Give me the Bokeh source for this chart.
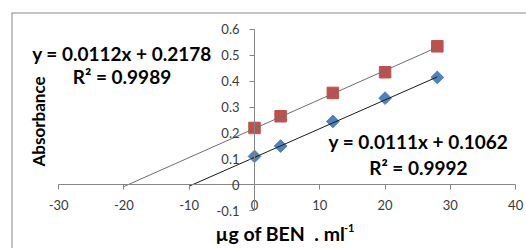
import math
from bokeh.plotting import figure
from bokeh.models import (FixedTicker, CustomJSTickFormatter, Label, Range1d,
                          LinearAxis, Span)
from bokeh.embed import file_html
from bokeh.resources import INLINE

# ---- data ----
conc = [0, 4, 12, 20, 28]                         # µg of BEN . ml-1
abs_red = [0.22, 0.265, 0.355, 0.435, 0.535]
abs_blue = [0.11, 0.15, 0.245, 0.335, 0.415]
slopes = [0.0112, 0.0111]
intercepts = [0.2178, 0.1062]
r_squared = [0.9989, 0.9992]
forecast_back = [20, 10]
x_ticks = [-30, -20, -10, 0, 10, 20, 30, 40]
y_ticks = [-0.1, 0, 0.1, 0.2, 0.3, 0.4, 0.5, 0.6]

FONT = "Lato"
X0, X1, Y0, Y1 = -37.22, 41.66, -0.2454, 0.6655

p = figure(width=526, height=248, output_backend="svg", toolbar_location=None,
           x_range=Range1d(X0, X1), y_range=Range1d(Y0, Y1),
           min_border_left=11, min_border_top=12, min_border_right=0, min_border_bottom=0,
           x_axis_type=None, y_axis_type=None)
p.background_fill_color = "white"
p.border_fill_color = "white"
p.outline_line_color = None
p.xgrid.visible = False
p.ygrid.visible = False

# chart-area border (only top and left edges fall inside the window)
p.add_layout(Span(location=X0, dimension="height", line_color="#8a8a8a", line_width=2))
p.add_layout(Span(location=Y1, dimension="width", line_color="#8a8a8a", line_width=2))

fmt = CustomJSTickFormatter(code="return Number(tick.toFixed(3)).toString();")

xa = LinearAxis(ticker=FixedTicker(ticks=x_ticks), formatter=fmt,
                bounds=(min(x_ticks), max(x_ticks)), fixed_location=0)
ya = LinearAxis(ticker=FixedTicker(ticks=y_ticks), formatter=fmt,
                bounds=(min(y_ticks), max(y_ticks)), fixed_location=0)
for ax in (xa, ya):
    ax.axis_line_color = "#868686"
    ax.major_tick_line_color = "#868686"
    ax.minor_tick_line_color = None
    ax.major_tick_out = 5
    ax.major_tick_in = 0
    ax.major_label_standoff = 10
    ax.major_label_text_font = FONT
    ax.major_label_text_font_size = "13px"
    ax.major_label_text_color = "#3a3a3a"
p.add_layout(xa, "below")
p.add_layout(ya, "left")

# markers
p.scatter(conc, abs_red, marker="square", size=11.5, fill_color="#C0504D", line_color="#C0504D")
p.scatter(conc, abs_blue, marker="square", angle=math.pi / 4, size=9,
          fill_color="#4F81BD", line_color="#4F81BD")

# trendlines
line_colors = ["#6e6e6e", "#1a1a1a"]
for m, b, back, col in zip(slopes, intercepts, forecast_back, line_colors):
    xs = [min(conc) - back, max(conc)]
    ys = [m * x + b for x in xs]
    p.line(xs, ys, line_color=col, line_width=1)

# equations
eq_pos = [(-20.3, 0.5085, 0.4186), (25.1, 0.1667, 0.0687)]
for m, b, r2, (ex, ey1, ey2) in zip(slopes, intercepts, r_squared, eq_pos):
    p.add_layout(Label(x=ex, y=ey1, text=f"y = {m}x + {b}", text_align="center",
                       text_baseline="alphabetic", text_font=FONT, text_font_style="bold",
                       text_font_size="19px", text_color="black"))
    p.add_layout(Label(x=ex, y=ey2, text=f"R² = {r2}", text_align="center",
                       text_baseline="alphabetic", text_font=FONT, text_font_style="bold",
                       text_font_size="19px", text_color="black"))

# axis titles
p.add_layout(Label(x=-33.16, y=0.245, text="Absorbance", angle=math.pi / 2,
                   text_align="center", text_baseline="middle", text_font=FONT,
                   text_font_style="bold", text_font_size="17px", text_color="black"))
p.add_layout(Label(x=-5.97, y=-0.187, text="µg of BEN\u00a0 . ml", text_align="left",
                   text_baseline="alphabetic", text_font=FONT,
                   text_font_style="bold", text_font_size="19.5px", text_color="black"))
p.add_layout(Label(x=13.7, y=-0.166, text="-1", text_align="left",
                   text_baseline="alphabetic", text_font=FONT,
                   text_font_style="bold", text_font_size="11px", text_color="black"))

open("out.html", "w").write(file_html(p, INLINE))
